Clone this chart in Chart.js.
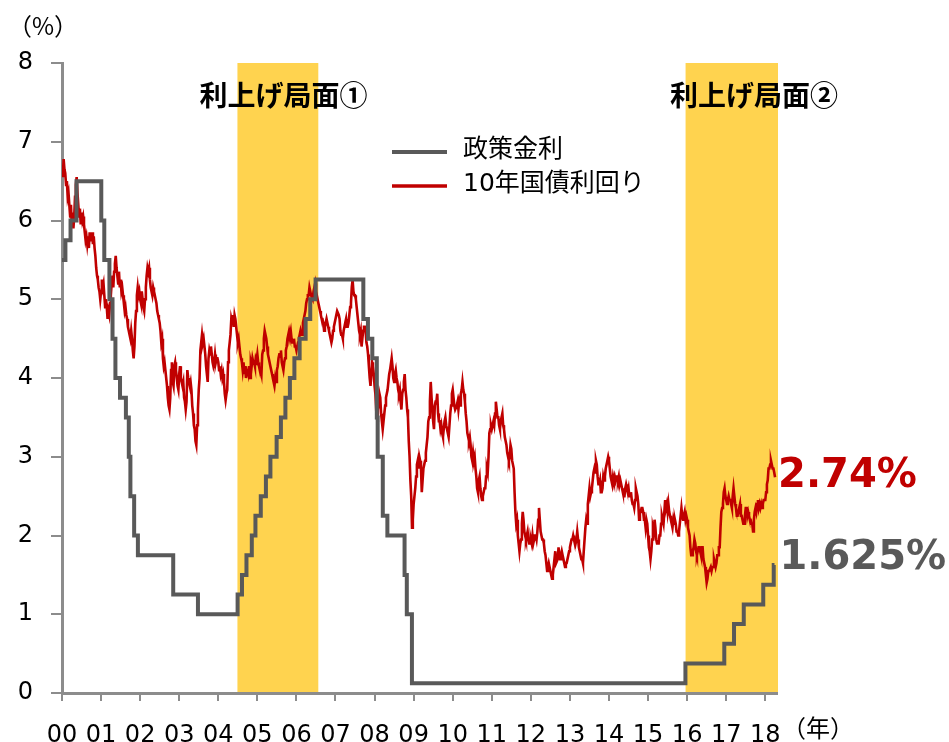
<!DOCTYPE html>
<html>
<head>
<meta charset="utf-8">
<script src="https://cdn.jsdelivr.net/npm/chart.js@4.4.1/dist/chart.umd.min.js"></script>
<style>
  html, body { margin: 0; padding: 0; background: #fff; }
</style>
</head>
<body>
<canvas id="rates" width="949" height="742"></canvas>
<script>
// FF target rate (midpoint of the range from Dec 2008 on), by change date
var fedDates = ['2000-01-01', '2000-02-02', '2000-03-21', '2000-05-16', '2001-01-03', '2001-01-31',
  '2001-03-20', '2001-04-18', '2001-05-15', '2001-06-27', '2001-08-21', '2001-09-17', '2001-10-02',
  '2001-11-06', '2001-12-11', '2002-11-06', '2003-06-25', '2004-06-30', '2004-08-10', '2004-09-21',
  '2004-11-10', '2004-12-14', '2005-02-02', '2005-03-22', '2005-05-03', '2005-06-30', '2005-08-09',
  '2005-09-20', '2005-11-01', '2005-12-13', '2006-01-31', '2006-03-28', '2006-05-10', '2006-06-29',
  '2007-09-18', '2007-10-31', '2007-12-11', '2008-01-22', '2008-01-30', '2008-03-18', '2008-04-30',
  '2008-10-08', '2008-10-29', '2008-12-16', '2015-12-16', '2016-12-14', '2017-03-15', '2017-06-14',
  '2017-12-13', '2018-03-21', '2018-03-28'];
var fedRates = [5.5, 5.75, 6.0, 6.5, 6.0, 5.5,
  5.0, 4.5, 4.0, 3.75, 3.5, 3.0, 2.5,
  2.0, 1.75, 1.25, 1.0, 1.25, 1.5, 1.75,
  2.0, 2.25, 2.5, 2.75, 3.0, 3.25, 3.5,
  3.75, 4.0, 4.25, 4.5, 4.75, 5.0, 5.25,
  4.75, 4.5, 4.25, 3.5, 3.0, 2.25, 2.0,
  1.5, 1.0, 0.125, 0.375, 0.625, 0.875, 1.125,
  1.375, 1.625, 1.625];

// 10-year treasury yield, weekly readings (4 a month) from January 2000
var bondStart = 2000;
var bondPerYear = 48;
var bondYields = [
  // 2000
  6.7, 6.55, 6.78, 6.65, 6.6, 6.45, 6.5, 6.3, 6.35, 6.2, 6.05, 6.2, 5.95, 6.1, 5.9, 6.05,
  6.3, 6.45, 6.55, 6.35, 6.2, 6.05, 6.15, 5.95, 6.1, 6.0, 6.05, 5.95, 5.85, 5.75, 5.8, 5.7,
  5.8, 5.65, 5.85, 5.75, 5.75, 5.85, 5.7, 5.8, 5.65, 5.55, 5.4, 5.3, 5.25, 5.15, 5.1, 5.0,
  // 2001
  5.1, 5.25, 5.15, 5.2, 5.05, 4.9, 5.0, 4.9, 4.75, 4.85, 4.8, 4.95, 5.05, 5.2, 5.3, 5.15,
  5.35, 5.45, 5.55, 5.4, 5.3, 5.2, 5.35, 5.15, 5.25, 5.1, 5.15, 5.05, 4.95, 4.85, 4.9, 4.8,
  4.75, 4.65, 4.6, 4.55, 4.5, 4.6, 4.5, 4.35, 4.25, 4.4, 4.7, 4.85, 5.05, 5.15, 5.05, 5.1,
  // 2002
  5.0, 4.95, 5.1, 5.0, 4.9, 4.85, 5.0, 5.15, 5.3, 5.4, 5.35, 5.4, 5.25, 5.15, 5.1, 5.05,
  5.15, 5.1, 5.05, 5.0, 4.95, 4.85, 4.8, 4.75, 4.7, 4.6, 4.45, 4.5, 4.25, 4.15, 4.2, 4.1,
  4.0, 3.9, 3.75, 3.65, 3.6, 3.75, 4.1, 4.2, 3.95, 3.9, 4.15, 4.2, 4.1, 4.0, 3.9, 3.85,
  // 2003
  4.05, 4.15, 4.0, 3.95, 3.9, 3.95, 3.75, 3.7, 3.6, 3.7, 4.1, 4.0, 3.95, 3.9, 3.95, 3.85,
  3.65, 3.55, 3.4, 3.35, 3.2, 3.15, 3.4, 3.6, 3.85, 4.0, 4.35, 4.45, 4.55, 4.45, 4.5, 4.4,
  4.3, 4.15, 4.05, 3.95, 4.25, 4.35, 4.3, 4.4, 4.3, 4.2, 4.15, 4.2, 4.3, 4.2, 4.25, 4.25,
  // 2004
  4.2, 4.1, 4.15, 4.05, 4.1, 4.0, 4.05, 3.95, 3.8, 3.72, 3.8, 3.85, 4.2, 4.35, 4.45, 4.55,
  4.75, 4.7, 4.8, 4.65, 4.8, 4.75, 4.65, 4.55, 4.45, 4.5, 4.4, 4.3, 4.25, 4.2, 4.1, 4.2,
  4.05, 4.15, 4.0, 4.1, 4.1, 4.05, 4.15, 4.0, 4.2, 4.15, 4.25, 4.2, 4.2, 4.15, 4.25, 4.22,
  // 2005
  4.3, 4.2, 4.15, 4.1, 4.1, 4.05, 4.3, 4.35, 4.5, 4.6, 4.55, 4.5, 4.4, 4.3, 4.25, 4.2,
  4.15, 4.1, 4.05, 4.0, 3.95, 3.9, 4.0, 3.95, 4.1, 4.15, 4.25, 4.3, 4.3, 4.35, 4.2, 4.15,
  4.1, 4.2, 4.25, 4.35, 4.4, 4.5, 4.55, 4.6, 4.55, 4.6, 4.5, 4.45, 4.45, 4.5, 4.4, 4.4,
  // 2006
  4.35, 4.4, 4.45, 4.5, 4.55, 4.6, 4.55, 4.55, 4.7, 4.75, 4.8, 4.85, 4.95, 5.0, 5.05, 5.05,
  5.15, 5.1, 5.05, 5.05, 5.0, 5.1, 5.15, 5.2, 5.1, 5.05, 5.0, 4.95, 4.9, 4.85, 4.8, 4.75,
  4.75, 4.7, 4.6, 4.65, 4.7, 4.75, 4.7, 4.65, 4.6, 4.55, 4.5, 4.45, 4.5, 4.6, 4.65, 4.7,
  // 2007
  4.75, 4.8, 4.85, 4.85, 4.8, 4.75, 4.6, 4.55, 4.55, 4.5, 4.6, 4.65, 4.7, 4.75, 4.65, 4.65,
  4.7, 4.8, 4.9, 4.95, 5.15, 5.25, 5.1, 5.05, 5.05, 5.0, 4.9, 4.8, 4.7, 4.6, 4.55, 4.6,
  4.4, 4.5, 4.6, 4.65, 4.65, 4.6, 4.45, 4.4, 4.3, 4.15, 4.0, 3.9, 4.05, 4.2, 4.15, 4.05,
  // 2008
  3.9, 3.8, 3.6, 3.65, 3.6, 3.65, 3.8, 3.75, 3.55, 3.45, 3.35, 3.45, 3.55, 3.65, 3.75, 3.8,
  3.85, 3.95, 4.05, 4.1, 4.1, 4.25, 4.15, 4.0, 3.95, 4.05, 4.1, 4.0, 3.95, 3.85, 3.8, 3.85,
  3.7, 3.6, 3.8, 3.85, 3.95, 4.05, 3.85, 3.75, 3.6, 3.5, 3.2, 3.0, 2.7, 2.5, 2.1, 2.2,
  // 2009
  2.4, 2.5, 2.6, 2.75, 2.9, 2.95, 2.85, 3.0, 2.95, 2.85, 2.55, 2.7, 2.85, 2.9, 2.95, 3.05,
  3.15, 3.25, 3.45, 3.5, 3.7, 3.95, 3.75, 3.6, 3.45, 3.35, 3.65, 3.7, 3.7, 3.8, 3.55, 3.45,
  3.45, 3.35, 3.4, 3.3, 3.25, 3.35, 3.45, 3.5, 3.4, 3.35, 3.35, 3.25, 3.4, 3.55, 3.65, 3.8,
  // 2010
  3.85, 3.75, 3.65, 3.6, 3.6, 3.65, 3.7, 3.6, 3.7, 3.65, 3.8, 3.85, 3.95, 3.85, 3.8, 3.7,
  3.55, 3.45, 3.3, 3.25, 3.2, 3.25, 3.15, 3.0, 2.95, 3.05, 2.95, 3.0, 2.85, 2.75, 2.6, 2.55,
  2.7, 2.75, 2.6, 2.5, 2.45, 2.5, 2.55, 2.6, 2.6, 2.75, 2.85, 2.8, 3.0, 3.3, 3.35, 3.4,
  // 2011
  3.35, 3.4, 3.45, 3.4, 3.55, 3.7, 3.6, 3.5, 3.5, 3.4, 3.35, 3.45, 3.5, 3.55, 3.4, 3.35,
  3.25, 3.2, 3.15, 3.05, 3.0, 2.95, 3.0, 3.15, 3.1, 2.95, 2.95, 2.85, 2.55, 2.3, 2.15, 2.2,
  2.0, 1.9, 1.8, 1.9, 1.95, 2.15, 2.3, 2.2, 2.05, 2.0, 1.95, 2.0, 2.05, 1.95, 1.9, 1.9,
  // 2012
  1.95, 1.9, 2.0, 1.9, 1.95, 2.0, 2.0, 1.95, 2.05, 2.2, 2.35, 2.2, 2.05, 2.0, 1.95, 1.95,
  1.9, 1.8, 1.75, 1.65, 1.55, 1.6, 1.65, 1.6, 1.55, 1.5, 1.45, 1.5, 1.6, 1.7, 1.8, 1.65,
  1.65, 1.7, 1.85, 1.75, 1.7, 1.75, 1.8, 1.75, 1.7, 1.65, 1.6, 1.65, 1.65, 1.7, 1.75, 1.8,
  // 2013
  1.85, 1.9, 1.95, 1.95, 2.0, 1.95, 1.95, 1.9, 1.95, 2.05, 1.95, 1.85, 1.8, 1.75, 1.7, 1.7,
  1.65, 1.8, 1.95, 2.1, 2.2, 2.15, 2.4, 2.5, 2.6, 2.5, 2.55, 2.6, 2.7, 2.8, 2.85, 2.8,
  2.95, 2.9, 2.75, 2.65, 2.65, 2.7, 2.55, 2.55, 2.6, 2.75, 2.7, 2.75, 2.85, 2.9, 2.95, 3.0,
  // 2014
  2.95, 2.85, 2.75, 2.7, 2.65, 2.75, 2.7, 2.75, 2.7, 2.75, 2.75, 2.7, 2.75, 2.65, 2.7, 2.65,
  2.6, 2.55, 2.5, 2.5, 2.6, 2.65, 2.6, 2.55, 2.6, 2.5, 2.5, 2.55, 2.45, 2.4, 2.4, 2.35,
  2.45, 2.6, 2.55, 2.5, 2.4, 2.2, 2.3, 2.3, 2.35, 2.35, 2.3, 2.2, 2.2, 2.1, 2.2, 2.15,
  // 2015
  2.0, 1.85, 1.8, 1.7, 1.8, 1.95, 2.1, 2.05, 2.2, 2.1, 1.95, 1.9, 1.9, 1.9, 2.0, 2.0,
  2.15, 2.25, 2.2, 2.15, 2.3, 2.45, 2.35, 2.4, 2.3, 2.4, 2.3, 2.25, 2.2, 2.15, 2.1, 2.2,
  2.15, 2.2, 2.15, 2.05, 2.05, 2.0, 2.05, 2.15, 2.25, 2.35, 2.25, 2.2, 2.25, 2.3, 2.2, 2.25,
  // 2016
  2.2, 2.1, 2.05, 2.0, 1.85, 1.75, 1.75, 1.8, 1.85, 1.95, 1.9, 1.8, 1.75, 1.8, 1.85, 1.85,
  1.8, 1.75, 1.85, 1.85, 1.7, 1.65, 1.6, 1.5, 1.4, 1.45, 1.55, 1.55, 1.55, 1.6, 1.55, 1.6,
  1.6, 1.7, 1.65, 1.6, 1.65, 1.75, 1.75, 1.85, 1.85, 2.1, 2.3, 2.35, 2.4, 2.55, 2.6, 2.5,
  // 2017
  2.45, 2.4, 2.45, 2.5, 2.45, 2.45, 2.4, 2.35, 2.5, 2.6, 2.5, 2.4, 2.35, 2.25, 2.25, 2.3,
  2.35, 2.4, 2.25, 2.25, 2.2, 2.15, 2.15, 2.25, 2.35, 2.35, 2.25, 2.3, 2.25, 2.2, 2.2, 2.15,
  2.15, 2.05, 2.2, 2.3, 2.35, 2.3, 2.4, 2.45, 2.35, 2.4, 2.35, 2.4, 2.35, 2.4, 2.45, 2.45,
  // 2018
  2.45, 2.55, 2.65, 2.7, 2.85, 2.85, 2.9, 2.95, 2.9, 2.85, 2.85, 2.8, 2.74
];

var yearLabels = ['00', '01', '02', '03', '04', '05', '06', '07', '08', '09',
  '10', '11', '12', '13', '14', '15', '16', '17', '18'];
var seriesNames = ['政策金利', '10年国債利回り'];

// tightening cycles (decimal years)
var hikeStart = [2004.49, 2015.96];
var hikeEnd = [2006.56, 2018.33];
var hikeNames = ['利上げ局面①', '利上げ局面②'];

var GREY = '#595959';
var RED = '#C00000';
var BAND = '#FFD34F';
var AXIS = '#8C8C8C';
var NUM_FONT = "'DejaVu Sans', 'Noto Sans CJK JP', sans-serif";
var JP_FONT = "'Noto Sans CJK JP', sans-serif";

function toYear(s) {
  var p = s.split('-').map(Number);
  var a = Date.UTC(p[0], 0, 1), b = Date.UTC(p[0] + 1, 0, 1);
  return p[0] + (Date.UTC(p[0], p[1] - 1, p[2]) - a) / (b - a);
}

var fedPoints = fedDates.map(function(d, i) { return { x: toYear(d), y: fedRates[i] }; });
var bondPoints = bondYields.map(function(v, i) { return { x: bondStart + i / bondPerYear, y: v }; });

var decor = {
  id: 'decor',
  beforeDraw: function(chart) {
    var ctx = chart.ctx, xs = chart.scales.x, ys = chart.scales.y, area = chart.chartArea;
    var top = ys.getPixelForValue(8), bottom = ys.getPixelForValue(0);
    ctx.save();
    ctx.fillStyle = BAND;
    for (var i = 0; i < hikeStart.length; i++) {
      var l = xs.getPixelForValue(hikeStart[i]);
      var r = Math.min(xs.getPixelForValue(hikeEnd[i]), area.right + 1);
      ctx.fillRect(l, top, r - l, bottom - top);
    }
    ctx.restore();
  },
  afterDraw: function(chart) {
    var ctx = chart.ctx, xs = chart.scales.x;
    ctx.save();

    // band captions
    var captionAt = [2005.67, 2017.71];
    ctx.font = 'bold 28px ' + JP_FONT;
    ctx.fillStyle = '#000';
    ctx.textAlign = 'center';
    ctx.textBaseline = 'middle';
    for (var i = 0; i < hikeNames.length; i++) {
      ctx.fillText(hikeNames[i], xs.getPixelForValue(captionAt[i]), 95);
    }

    // legend
    var colors = [GREY, RED];
    var widths = [4, 3.5];
    ctx.font = '25px ' + NUM_FONT;
    ctx.textAlign = 'left';
    for (var j = 0; j < seriesNames.length; j++) {
      var ly = 152 + j * 34;
      ctx.strokeStyle = colors[j];
      ctx.lineWidth = widths[j];
      ctx.beginPath();
      ctx.moveTo(392, ly);
      ctx.lineTo(447, ly);
      ctx.stroke();
      ctx.fillStyle = '#000';
      ctx.fillText(seriesNames[j], 463, ly - 2);
    }

    // closing values
    var bondMeta = chart.getDatasetMeta(1).data;
    var fedMeta = chart.getDatasetMeta(0).data;
    var bLast = bondMeta[bondMeta.length - 1];
    var fLast = fedMeta[fedMeta.length - 1];
    ctx.font = 'bold 40px ' + NUM_FONT;
    ctx.textBaseline = 'alphabetic';
    ctx.fillStyle = RED;
    ctx.fillText(bondYields[bondYields.length - 1].toFixed(2) + '%', bLast.x + 3, bLast.y + 10);
    ctx.fillStyle = GREY;
    ctx.fillText(fedRates[fedRates.length - 1] + '%', fLast.x + 5, fLast.y + 4);

    // axis units
    ctx.fillStyle = '#000';
    ctx.textBaseline = 'middle';
    ctx.textAlign = 'center';
    ctx.font = '24px ' + JP_FONT;
    ctx.fillText('（%）', 43, 26);
    ctx.fillText('（年）', 818, 728);
    ctx.restore();
  }
};

new Chart(document.getElementById('rates'), {
  type: 'line',
  data: {
    datasets: [
      {
        label: seriesNames[0],
        data: fedPoints,
        borderColor: GREY,
        borderWidth: 4,
        stepped: true,
        pointRadius: 0,
        fill: false
      },
      {
        label: seriesNames[1],
        data: bondPoints,
        borderColor: RED,
        borderWidth: 2.6,
        tension: 0,
        pointRadius: 0,
        fill: false
      }
    ]
  },
  options: {
    responsive: false,
    animation: false,
    devicePixelRatio: 1,
    layout: { padding: { top: 63, right: 172, left: 0, bottom: 0 } },
    plugins: { legend: { display: false }, tooltip: { enabled: false } },
    scales: {
      x: {
        type: 'linear',
        min: 2000,
        max: 2018.3,
        afterFit: function(scale) { scale.height = 49; },
        border: { color: AXIS, width: 3 },
        grid: { drawOnChartArea: false, drawTicks: true, tickLength: 8, color: AXIS, lineWidth: 2 },
        ticks: {
          stepSize: 1,
          includeBounds: false,
          autoSkip: false,
          maxRotation: 0,
          padding: 20,
          color: '#000',
          font: { family: NUM_FONT, size: 24 },
          callback: function(v) {
            var k = Math.round(v - 2000);
            return Math.abs(v - 2000 - k) < 1e-6 ? yearLabels[k] : '';
          }
        }
      },
      y: {
        min: 0,
        max: 8,
        afterFit: function(scale) { scale.width = 62; },
        border: { color: AXIS, width: 3 },
        grid: { drawOnChartArea: false, drawTicks: true, tickLength: 11, color: AXIS, lineWidth: 2 },
        ticks: {
          stepSize: 1,
          padding: 18,
          color: '#000',
          font: { family: NUM_FONT, size: 24 }
        }
      }
    }
  },
  plugins: [decor]
});
</script>
</body>
</html>
